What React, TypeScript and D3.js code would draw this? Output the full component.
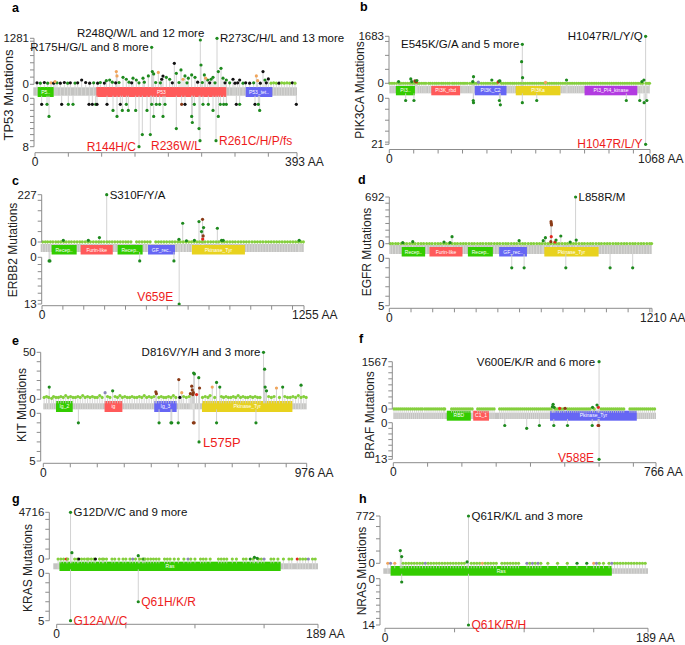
import React from "react";
import * as d3 from "d3";

type Mut = [number, number, string];
type Dom = [string, number, number, string];
type Lab = [number, number, string];

// ---------------- a: TP53 ----------------
const tp53Len = 393;
const tp53UpMax = 1281;
const tp53LowMax = 8;
const tp53Domains: Dom[] = [["P5..", 4, 28, "G"], ["P53", 92, 287, "R"], ["P53_tet..", 316, 356, "B"]];
const tp53Upper: Mut[] = [
  [175, 1030, "m"], [248, 1233, "m"], [273, 1281, "m"],
  [122, 353, "o"], [123, 232, "o"], [176, 353, "m"], [185, 330, "o"], [209, 585, "t"], [219, 399, "m"],
  [249, 538, "m"], [275, 353, "m"], [279, 446, "m"], [267, 195, "m"], [342, 353, "t"], [332, 232, "o"],
  [334, 100, "o"], [190, 140, "t"], [192, 230, "t"], [222, 140, "o"], [70, 120, "t"], [30, 75, "o"],
  [256, 170, "o"], [264, 140, "m"], [107, 100, "m"], [112, 120, "m"], [132, 195, "m"], [137, 140, "m"],
  [147, 170, "m"], [152, 120, "m"], [162, 170, "m"], [170, 232, "m"], [178, 288, "m"], [197, 195, "m"],
  [202, 140, "m"], [212, 306, "m"], [225, 232, "m"], [230, 170, "m"], [235, 260, "m"], [240, 195, "m"],
  [254, 260, "m"], [259, 120, "m"], [282, 170, "m"], [287, 120, "m"], [297, 140, "t"], [307, 120, "t"],
  [345, 120, "m"], [350, 150, "t"],
];
const tp53Lower: Mut[] = [
  [10, 1, "t"], [18, 1, "m"], [21, 3, "m"], [40, 1, "t"], [50, 1, "m"], [57, 1, "m"], [81, 1, "t"], [86, 1, "t"],
  [91, 1, "m"], [93, 1, "t"], [108, 1, "t"], [117, 2, "m"], [123, 3, "m"], [128, 1, "t"], [131, 2, "m"],
  [137, 1, "m"], [140, 2, "m"], [151, 2, "m"], [156, 8, "m"], [161, 6, "m"], [168, 2, "m"], [173, 6, "m"],
  [175, 1, "m"], [178, 3, "m"], [182, 1, "m"], [187, 1, "m"], [192, 3, "m"], [195, 1, "m"], [212, 5, "m"],
  [220, 1, "i"], [225, 1, "t"], [235, 3, "m"], [236, 4, "m"], [239, 1, "m"], [246, 5, "m"], [247.5, 7, "m"],
  [252, 1, "m"], [260, 1, "m"], [267, 2, "m"], [271.5, 7, "m"], [275, 3, "m"], [278, 1, "m"], [283, 1, "m"],
  [287, 1, "m"], [302, 1, "t"], [307, 1, "m"], [330, 1, "t"], [335, 1, "m"], [337, 2, "m"], [392, 1, "t"],
];
const tp53Base: Mut[] = [
  [3, 40, "t"], [8, 30, "m"], [14, 50, "t"], [19, 30, "m"], [24, 40, "o"], [28, 30, "t"], [33, 40, "m"], [38, 30, "t"],
  [44, 50, "t"], [49, 30, "m"], [53, 40, "t"], [60, 35, "m"], [64, 40, "t"], [76, 50, "t"], [82, 30, "t"], [88, 40, "m"],
  [94, 30, "t"], [98, 50, "m"], [104, 35, "t"], [116, 60, "m"], [121, 40, "t"], [126, 50, "m"], [141, 60, "m"],
  [145, 40, "t"], [156, 40, "m"], [164, 60, "m"], [181, 50, "m"], [188, 40, "m"], [206, 40, "t"], [216, 50, "m"],
  [228, 40, "m"], [244, 60, "t"], [251, 50, "m"], [262, 40, "t"], [270, 40, "m"], [285, 40, "t"], [292, 40, "m"],
  [300, 30, "t"], [304, 40, "t"], [312, 30, "m"], [316, 40, "t"], [322, 30, "t"], [328, 40, "m"], [338, 30, "t"],
  [347, 40, "t"], [354, 30, "l"], [358, 40, "l"], [362, 30, "l"], [366, 30, "t"], [370, 40, "l"], [374, 30, "l"],
  [378, 40, "l"], [382, 30, "l"], [386, 40, "t"], [390, 30, "l"],
];
const tp53UpLabels: Lab[] = [[175, 1030, "R175H/G/L and 8 more"], [248, 1233, "R248Q/W/L and 12 more"], [273, 1281, "R273C/H/L and 13 more"]];
const tp53LowLabels: Lab[] = [[156, 8, "R144H/C"], [247.5, 7, "R236W/L"], [271.5, 7, "R261C/H/P/fs"]];

// ---------------- b: PIK3CA ----------------
const pik3caLen = 1068;
const pik3caUpMax = 1683;
const pik3caLowMax = 21;
const pik3caDomains: Dom[] = [["PI3..", 27, 105, "G"], ["PI3K_rbd", 172, 290, "R"], ["PI3K_C2", 350, 480, "B"], ["PI3Ka", 518, 701, "Y"], ["PI3_PI4_kinase", 800, 1016, "P"]];
const pik3caUpper: Mut[] = [
  [1050, 1683, "m"], [545, 1397, "m"], [542, 776, "m"], [546, 203, "m"], [1043, 119, "m"], [88, 155, "m"],
  [345, 239, "m"], [420, 119, "m"], [453, 84, "m"], [726, 119, "m"], [38, 60, "m"], [105, 84, "i"],
  [108, 70, "i"], [111, 50, "r"], [113, 100, "m"], [92, 60, "m"], [342, 60, "m"], [446, 50, "r"],
  [450, 80, "m"], [1035, 60, "m"], [365, 40, "p"], [640, 30, "o"],
];
const pik3caLower: Mut[] = [
  [67, 1, "m"], [101, 1, "m"], [344, 1, "m"], [345, 2, "m"], [451, 1, "m"], [455, 3, "m"], [545, 2, "m"],
  [604, 1, "m"], [971, 1, "m"], [1026, 1, "m"], [1044, 2, "m"], [1050, 21, "m"], [1055, 1, "m"],
];
const pik3caBase: number[] = [
  2, 11, 20, 30, 41, 48, 57, 66, 75, 84, 95, 103, 117, 124, 133, 142, 150, 161, 168, 177, 186, 194, 203, 213, 221,
  230, 239, 247, 258, 266, 275, 284, 293, 302, 310, 319, 330, 338, 349, 357, 366, 377, 386, 395, 404, 413, 424,
  432, 441, 460, 468, 477, 486, 495, 504, 512, 521, 530, 539, 550, 558, 567, 576, 585, 594, 603, 612, 621, 630,
  639, 648, 657, 666, 675, 684, 693, 702, 711, 720, 731, 740, 749, 758, 767, 776, 785, 794, 803, 812, 821, 830,
  839, 848, 857, 866, 875, 884, 893, 902, 911, 920, 929, 938, 947, 956, 965, 974, 983, 992, 1001, 1010, 1019,
  1028, 1037, 1052, 1060, 1066,
];
const pik3caUpLabels: Lab[] = [[545, 1397, "E545K/G/A and 5 more"], [1050, 1683, "H1047R/L/Y/Q"]];
const pik3caLowLabels: Lab[] = [[1050, 21, "H1047R/L/Y"]];

// ---------------- c: ERBB2 ----------------
const erbb2Len = 1255;
const erbb2UpMax = 227;
const erbb2LowMax = 13;
const erbb2Domains: Dom[] = [["Recep..", 46, 166, "G"], ["Furin-like", 185, 339, "R"], ["Recep..", 362, 482, "G"], ["GF_rec..", 508, 637, "B"], ["Pkinase_Tyr", 718, 972, "Y"]];
const erbb2Upper: Mut[] = [
  [310, 227, "m"], [674, 90, "m"], [752, 98, "m"], [769, 109, "i"], [774, 69, "m"], [764, 50, "m"], [772, 29, "i"],
  [770, 14, "r"], [840, 66, "m"], [275, 21, "m"], [656, 13, "m"], [730, 8, "m"], [860, 8, "m"], [868, 8, "m"],
  [102, 8, "m"], [222, 8, "m"], [1232, 8, "m"], [692, 6, "m"],
];
const erbb2Lower: Mut[] = [[34, 1, "m"], [38, 1, "m"], [468, 1, "m"], [632, 1, "m"], [657, 13, "m"]];
const erbb2Base: number[] = [
  3, 16, 27, 40, 52, 66, 78, 90, 104, 116, 129, 141, 155, 168, 181, 193, 207, 220, 232, 246, 259, 271, 284, 297,
  311, 323, 336, 349, 362, 375, 388, 401, 413, 426, 453, 466, 479, 492, 505, 518, 545, 558, 571, 584, 597, 611,
  624, 637, 650, 663, 677, 690, 703, 716, 729, 742, 755, 768, 781, 795, 808, 821, 834, 847, 861, 874, 887, 900,
  913, 926, 940, 953, 966, 979, 992, 1006, 1019, 1032, 1045, 1058, 1072, 1085, 1098, 1111, 1124, 1137, 1150,
  1163, 1176, 1189, 1202, 1215, 1228, 1241, 1252,
];
const erbb2UpLabels: Lab[] = [[310, 227, "S310F/Y/A"]];
const erbb2LowLabels: Lab[] = [[657, 13, "V659E"]];

// ---------------- d: EGFR ----------------
const egfrLen = 1210;
const egfrUpMax = 692;
const egfrLowMax = 5;
const egfrDomains: Dom[] = [["Recep..", 57, 165, "G"], ["Furin-like", 185, 337, "R"], ["Recep..", 362, 477, "G"], ["GF_rec..", 506, 634, "B"], ["Pkinase_Tyr", 714, 964, "Y"]];
const egfrUpper: Mut[] = [
  [858, 692, "m"], [745, 326, "i"], [746, 301, "i"], [747, 277, "i"], [746, 104, "r"], [744, 30, "i"], [790, 114, "m"],
  [861, 54, "m"], [719, 89, "m"], [709, 45, "m"], [768, 54, "m"], [763, 25, "r"], [598, 45, "m"], [289, 104, "m"],
  [108, 30, "m"], [62, 15, "m"], [252, 25, "m"], [280, 15, "m"], [833, 25, "m"],
];
const egfrLower: Mut[] = [[564, 1, "m"], [621, 1, "m"], [813, 1, "m"], [1017, 1, "m"], [1121, 1, "m"]];
const egfrBase: number[] = [
  4, 15, 29, 41, 55, 68, 80, 94, 107, 119, 133, 146, 158, 172, 185, 197, 211, 224, 236, 250, 263, 275, 289, 302,
  314, 328, 341, 353, 367, 380, 392, 406, 419, 431, 445, 458, 470, 484, 497, 509, 523, 536, 548, 562, 575, 587,
  601, 614, 626, 640, 653, 665, 679, 692, 704, 718, 731, 743, 757, 770, 782, 796, 809, 821, 835, 848, 860, 874,
  887, 899, 913, 926, 938, 952, 965, 977, 991, 1004, 1016, 1030, 1043, 1055, 1069, 1082, 1094, 1108, 1121, 1133,
  1147, 1160, 1172, 1186, 1199, 1208,
];
const egfrUpLabels: Lab[] = [[858, 692, "L858R/M"]];
const egfrLowLabels: Lab[] = [];

// ---------------- e: KIT ----------------
const kitLen = 976;
const kitUpMax = 50;
const kitLowMax = 5;
const kitDomains: Dom[] = [["Ig_2", 47, 109, "G"], ["ig", 227, 293, "R"], ["Ig_3", 411, 494, "B"], ["Pkinase_Tyr", 588, 923, "Y"]];
const kitUpper: Mut[] = [
  [816, 50, "m"], [820, 32, "m"], [822, 13, "m"], [827, 9, "m"], [557, 28, "m"], [560, 27, "m"], [550, 14, "i"],
  [552, 10, "i"], [556, 7, "i"], [554, 5, "i"], [502, 21, "i"], [576, 23, "m"], [579, 12, "i"], [642, 18, "m"],
  [654, 13, "m"], [626, 13, "o"], [513, 7, "o"], [417, 8, "i"], [419, 6, "i"], [22, 13, "m"], [229, 7, "p"],
  [257, 9, "m"], [887, 13, "m"], [864, 12, "o"], [955, 15, "m"], [506, 2, "t"], [568, 5, "r"], [545, 6, "i"],
];
const kitLower: Mut[] = [
  [130, 1, "m"], [429, 1, "m"], [473, 1, "m"], [476, 1, "m"], [500, 1, "m"], [556, 1, "i"], [559, 1, "i"],
  [642, 1, "m"], [788, 1, "m"], [577, 3, "m"],
];
const kitBase: [number, number][] = [
  [3, 2], [12, 3], [20, 2], [31, 1], [38, 3], [47, 2], [56, 2], [65, 3], [74, 2], [83, 4], [92, 2], [101, 3], [110, 2],
  [119, 2], [128, 3], [137, 2], [146, 4], [155, 2], [164, 3], [173, 2], [182, 3], [191, 2], [200, 2], [209, 4],
  [218, 2], [238, 3], [247, 2], [266, 3], [275, 2], [284, 4], [293, 2], [302, 3], [311, 2], [320, 2], [329, 3],
  [338, 2], [347, 2], [356, 3], [365, 2], [374, 4], [383, 2], [392, 3], [401, 2], [410, 3], [428, 2], [437, 3],
  [446, 2], [455, 2], [464, 3], [473, 2], [482, 4], [491, 2], [520, 3], [530, 2], [540, 3], [590, 2], [600, 3],
  [610, 2], [618, 4], [635, 2], [660, 3], [668, 2], [677, 3], [686, 2], [695, 2], [704, 3], [713, 2], [722, 4],
  [731, 2], [740, 3], [749, 2], [758, 2], [767, 3], [776, 2], [785, 3], [794, 2], [803, 2], [835, 3], [845, 2],
  [855, 3], [875, 2], [895, 3], [905, 2], [915, 2], [925, 3], [935, 2], [945, 4], [955, 2], [965, 3], [974, 2],
];
const kitUpLabels: Lab[] = [[816, 50, "D816V/Y/H and 3 more"]];
const kitLowLabels: Lab[] = [[577, 3, "L575P"]];

// ---------------- f: BRAF ----------------
const brafLen = 766;
const brafUpMax = 1567;
const brafLowMax = 13;
const brafDomains: Dom[] = [["RBD", 156, 226, "G"], ["C1_1", 233, 279, "R"], ["Pkinase_Tyr", 457, 710, "B"]];
const brafUpper: Mut[] = [
  [600, 1567, "m"], [466, 154, "m"], [464, 77, "m"], [469, 55, "m"], [594, 132, "m"], [581, 55, "m"],
  [485, 22, "r"], [501, 22, "i"], [598, 55, "r"],
];
const brafLower: Mut[] = [
  [325, 1, "m"], [389, 2, "m"], [426, 1, "m"], [468, 1, "m"], [508, 1, "m"], [580, 1, "m"], [597, 1, "r"],
  [599, 1, "i"], [600, 13, "m"],
];
const brafBase: number[] = [
  2, 8, 14, 20, 26, 32, 38, 44, 50, 56, 62, 68, 74, 80, 85, 92, 98, 104, 110, 116, 122, 128, 134, 140, 146, 150,
  170, 176, 182, 188, 194, 200, 206, 212, 218, 224, 230, 246, 252, 258, 264, 270, 276, 282, 288, 294, 310, 316,
  322, 328, 334, 340, 346, 352, 358, 364, 370, 376, 382, 388, 394, 400, 406, 412, 418, 424, 430, 436, 442, 448,
  454, 460, 472, 478, 484, 490, 496, 508, 514, 520, 526, 532, 538, 544, 550, 556, 562, 568, 574, 586, 606, 612,
  618, 624, 630, 636, 642, 648, 654, 660, 666, 672, 690, 696, 702, 708, 714, 720, 726, 732, 738, 744, 750, 756, 762,
];
const brafUpLabels: Lab[] = [[600, 1567, "V600E/K/R and 6 more"]];
const brafLowLabels: Lab[] = [[600, 13, "V588E"]];

// ---------------- g: KRAS ----------------
const krasLen = 189;
const krasUpMax = 4716;
const krasLowMax = 5;
const krasDomains: Dom[] = [["Ras", 2, 162, "G"]];
const krasUpper: Mut[] = [[10, 4716, "m"], [11, 640, "m"], [59, 337, "m"], [143, 168, "m"], [145, 70, "m"]];
const krasLower: Mut[] = [[10, 5, "m"], [59, 3, "m"]];
const krasBase: Mut[] = [
  [1, 1, "l"], [3, 1, "l"], [5, 1, "l"], [7, 1, "r"], [8, 1, "l"], [13, 1, "l"], [15, 1, "l"], [16, 1, "t"], [18, 1, "l"],
  [20, 1, "l"], [22, 1, "l"], [23, 1, "l"], [25, 1, "l"], [27, 1, "l"], [28, 1, "t"], [31, 1, "l"], [33, 1, "l"],
  [34, 1, "l"], [36, 1, "l"], [40, 1, "l"], [42, 1, "l"], [45, 1, "l"], [48, 1, "l"], [50, 1, "l"], [53, 1, "l"],
  [55, 1, "p"], [57, 1, "l"], [60, 1, "l"], [62, 1, "l"], [63, 1, "m"], [64, 1, "l"], [66, 1, "l"], [68, 1, "l"],
  [70, 1, "l"], [72, 1, "l"], [74, 1, "l"], [78, 1, "l"], [80, 1, "l"], [82, 1, "l"], [85, 1, "l"], [88, 1, "l"],
  [92, 1, "l"], [95, 1, "p"], [97, 1, "l"], [100, 1, "l"], [104, 1, "l"], [106, 1, "l"], [108, 1, "l"], [111, 1, "l"],
  [117, 1, "l"], [119, 1, "l"], [121, 1, "l"], [123, 1, "l"], [127, 1, "l"], [130, 1, "l"], [135, 1, "l"],
  [137, 1, "l"], [140, 1, "m"], [142, 1, "l"], [146, 1, "l"], [148, 1, "l"], [150, 1, "p"], [155, 1, "l"],
  [157, 1, "l"], [160, 1, "l"], [164, 1, "l"], [168, 1, "l"], [170, 1, "l"], [174, 1, "r"], [176, 1, "l"],
  [178, 1, "l"], [180, 1, "l"], [182, 1, "p"], [185, 1, "l"], [187, 1, "l"],
];
const krasUpLabels: Lab[] = [[10, 4716, "G12D/V/C and 9 more"]];
const krasLowLabels: Lab[] = [[10, 5, "G12A/V/C"], [59, 3, "Q61H/K/R"]];

// ---------------- h: NRAS ----------------
const nrasLen = 189;
const nrasUpMax = 772;
const nrasLowMax = 14;
const nrasDomains: Dom[] = [["Ras", 4, 163, "G"]];
const nrasUpper: Mut[] = [[60, 772, "m"], [11, 207, "m"], [12, 109, "m"], [59, 22, "m"]];
const nrasLower: Mut[] = [[12, 1, "m"], [60, 14, "m"]];
const nrasBase: Mut[] = [
  [2, 1, "o"], [4, 1, "p"], [7, 1, "o"], [13, 1, "l"], [15, 1, "l"], [17, 1, "l"], [19, 1, "l"], [21, 1, "l"],
  [23, 1, "l"], [25, 1, "l"], [27, 1, "l"], [29, 1, "p"], [31, 1, "l"], [33, 1, "l"], [35, 1, "l"], [37, 1, "l"],
  [39, 1, "l"], [41, 1, "l"], [43, 1, "l"], [45, 1, "l"], [47, 1, "l"], [49, 1, "l"], [51, 1, "l"], [53, 1, "l"],
  [55, 1, "l"], [57, 1, "l"], [62, 1, "l"], [64, 1, "l"], [66, 1, "l"], [68, 1, "l"], [70, 1, "o"], [72, 1, "l"],
  [74, 1, "l"], [76, 1, "l"], [78, 1, "l"], [80, 1, "l"], [84, 1, "l"], [86, 1, "l"], [88, 1, "l"], [90, 1, "l"],
  [92, 1, "l"], [94, 1, "l"], [96, 1, "l"], [102, 1, "p"], [104, 1, "l"], [106, 1, "p"], [108, 1, "l"],
  [110, 1, "p"], [112, 1, "l"], [117, 1, "l"], [124, 1, "l"], [131, 1, "l"], [138, 1, "m"], [145, 1, "m"],
  [150, 1, "o"], [152, 1, "p"], [154, 1, "l"], [157, 1, "l"], [161, 1, "l"], [163, 1, "p"], [165, 1, "l"],
  [167, 1, "l"], [169, 1, "l"], [171, 1, "l"], [173, 1, "l"], [175, 1, "l"], [177, 1, "l"], [179, 1, "l"],
  [181, 1, "l"], [183, 1, "l"], [185, 1, "l"], [187, 1, "l"],
];
const nrasUpLabels: Lab[] = [[60, 772, "Q61R/K/L and 3 more"]];
const nrasLowLabels: Lab[] = [[60, 14, "Q61K/R/H"]];

// ---------------- styles ----------------
const FONT = "Arial, 'Liberation Sans', Helvetica, sans-serif";
const COLORS: Record<string, string> = {
  m: "#1e8a1e", l: "#84cf3c", t: "#111111", i: "#8a3a16", o: "#f0a55c", r: "#e2261c", p: "#8a86b8",
};
const DOMAIN_COLORS: Record<string, string> = { G: "#33cc00", R: "#ff5a5a", B: "#6666f4", Y: "#e8d21e", P: "#b23be0" };

type Layout = {
  letter: string; lx: number; ly: number; tx: number; ty: number; ts: number;
  ox: number; x0: number; x1: number; bx0: number; yTop: number; yZero: number;
  bandTop: number; bandH: number; boxTop: number; boxH: number; lowZero: number; lowY: number;
  axisY: number; step: number;
};
type LabStyle = [string, number, number, number]; // anchor, dx, dy, size

const LAYOUTS: Layout[] = [
  { letter: "a", lx: 12, ly: 12, tx: 8, ty: 95, ts: 13, ox: 34, x0: 35, x1: 297, bx0: 33.3, yTop: 38.3, yZero: 84.3, bandTop: 87.3, bandH: 8.4, boxTop: 87, boxH: 10, lowZero: 98.3, lowY: 146.7, axisY: 152.7, step: 50 },
  { letter: "b", lx: 360, ly: 10.5, tx: 360, ty: 90, ts: 12, ox: 389, x0: 389.3, x1: 650, bx0: 389.3, yTop: 36.3, yZero: 83.3, bandTop: 86, bandH: 7.3, boxTop: 85.8, boxH: 9.5, lowZero: 98.3, lowY: 144.3, axisY: 149.5, step: 100 },
  { letter: "c", lx: 12, ly: 185, tx: 13, ty: 250, ts: 12, ox: 41.7, x0: 42, x1: 304, bx0: 40.7, yTop: 194.7, yZero: 242, bandTop: 244, bandH: 8, boxTop: 245, boxH: 9.5, lowZero: 257.3, lowY: 304, axisY: 305.7, step: 100 },
  { letter: "d", lx: 358, ly: 184, tx: 367, ty: 252, ts: 12, ox: 389.3, x0: 389.3, x1: 652, bx0: 389.3, yTop: 197, yZero: 243.7, bandTop: 245, bandH: 9, boxTop: 247, boxH: 9.5, lowZero: 258.3, lowY: 305.7, axisY: 308.3, step: 100 },
  { letter: "e", lx: 12, ly: 345, tx: 22, ty: 405, ts: 12, ox: 40.7, x0: 43.3, x1: 306.7, bx0: 43.3, yTop: 352.3, yZero: 399.3, bandTop: 403.3, bandH: 6, boxTop: 401, boxH: 11, lowZero: 413.3, lowY: 461, axisY: 463.3, step: 100 },
  { letter: "f", lx: 359, ly: 343, tx: 370, ty: 415, ts: 12, ox: 392.3, x0: 393.3, x1: 656, bx0: 393.3, yTop: 361.7, yZero: 409, bandTop: 412.7, bandH: 6.3, boxTop: 410.7, boxH: 10, lowZero: 422.7, lowY: 459.3, axisY: 462.7, step: 100 },
  { letter: "g", lx: 12, ly: 503, tx: 28, ty: 568, ts: 12, ox: 49.3, x0: 56.7, x1: 318, bx0: 53.3, yTop: 512.3, yZero: 559, bandTop: 563.3, bandH: 6, boxTop: 561.7, boxH: 9.3, lowZero: 573.3, lowY: 620.7, axisY: 624.3, step: 50 },
  { letter: "h", lx: 359, ly: 503, tx: 362, ty: 571, ts: 12, ox: 380, x0: 385, x1: 648, bx0: 383.3, yTop: 516, yZero: 563.3, bandTop: 568.3, bandH: 5.5, boxTop: 566, boxH: 9.7, lowZero: 578.7, lowY: 625, axisY: 628.3, step: 50 },
];

const UP_LABEL_STYLES: LabStyle[][] = [
  [["end", -3, 4, 11.5], ["end", 4, -3, 11.5], ["start", 3, 4, 11.5]],
  [["end", -3, 4, 11.5], ["end", -3, 4, 11.5]],
  [["start", 3, 4, 11.5]],
  [["start", 3, 4, 11.5]],
  [["end", -3, 4, 11.5]],
  [["end", -4, 4, 11.5]],
  [["start", 3, 4, 11.5]],
  [["start", 3, 4, 11.5]],
];
const LOW_LABEL_STYLES: LabStyle[][] = [
  [["end", -3, 4, 12], ["end", 1, 9, 12], ["start", 3, 4, 12]],
  [["end", -3, 4, 12]],
  [["end", -6, -3, 12]],
  [],
  [["start", 4, 5, 13]],
  [["end", -5, 3, 12]],
  [["start", 3, 4, 12], ["start", 3, 4, 12]],
  [["start", 3, 4, 12]],
];

type PanelData = {
  gene: string; len: number; upMax: number; lowMax: number; domains: Dom[];
  upper: Mut[]; lower: Mut[]; base: Mut[]; upLabels: Lab[]; lowLabels: Lab[];
};

const PANELS: PanelData[] = [
  { gene: "TP53", len: tp53Len, upMax: tp53UpMax, lowMax: tp53LowMax, domains: tp53Domains, upper: tp53Upper, lower: tp53Lower, base: tp53Base, upLabels: tp53UpLabels, lowLabels: tp53LowLabels },
  { gene: "PIK3CA", len: pik3caLen, upMax: pik3caUpMax, lowMax: pik3caLowMax, domains: pik3caDomains, upper: pik3caUpper, lower: pik3caLower, base: pik3caBase.map((p) => [p, 1, "l"] as Mut), upLabels: pik3caUpLabels, lowLabels: pik3caLowLabels },
  { gene: "ERBB2", len: erbb2Len, upMax: erbb2UpMax, lowMax: erbb2LowMax, domains: erbb2Domains, upper: erbb2Upper, lower: erbb2Lower, base: erbb2Base.map((p) => [p, 1, "l"] as Mut), upLabels: erbb2UpLabels, lowLabels: erbb2LowLabels },
  { gene: "EGFR", len: egfrLen, upMax: egfrUpMax, lowMax: egfrLowMax, domains: egfrDomains, upper: egfrUpper, lower: egfrLower, base: egfrBase.map((p) => [p, 2, "l"] as Mut), upLabels: egfrUpLabels, lowLabels: egfrLowLabels },
  { gene: "KIT", len: kitLen, upMax: kitUpMax, lowMax: kitLowMax, domains: kitDomains, upper: kitUpper, lower: kitLower, base: kitBase.map(([p, c]) => [p, c, "l"] as Mut), upLabels: kitUpLabels, lowLabels: kitLowLabels },
  { gene: "BRAF", len: brafLen, upMax: brafUpMax, lowMax: brafLowMax, domains: brafDomains, upper: brafUpper, lower: brafLower, base: brafBase.map((p) => [p, 1, "l"] as Mut), upLabels: brafUpLabels, lowLabels: brafLowLabels },
  { gene: "KRAS", len: krasLen, upMax: krasUpMax, lowMax: krasLowMax, domains: krasDomains, upper: krasUpper, lower: krasLower, base: krasBase, upLabels: krasUpLabels, lowLabels: krasLowLabels },
  { gene: "NRAS", len: nrasLen, upMax: nrasUpMax, lowMax: nrasLowMax, domains: nrasDomains, upper: nrasUpper, lower: nrasLower, base: nrasBase, upLabels: nrasUpLabels, lowLabels: nrasLowLabels },
];

const AXIS = "#8c8c8c";
const STEM = "#cdcdcd";
const R = 1.6;

function Panel({ d, L, upStyles, lowStyles }: { d: PanelData; L: Layout; upStyles: LabStyle[]; lowStyles: LabStyle[] }) {
  const x = d3.scaleLinear().domain([0, d.len]).range([L.x0, L.x1]);
  const yU = d3.scaleLinear().domain([0, d.upMax]).range([L.yZero, L.yTop]);
  const yL = d3.scaleLinear().domain([0, d.lowMax]).range([L.lowZero, L.lowY]);
  const bandBot = L.bandTop + L.bandH;
  const upTicks = yU.ticks(5).filter((v) => v < d.upMax).concat([d.upMax]);
  const lowTicks = (d.lowMax <= 8 ? d3.range(0, d.lowMax) : yL.ticks(5).filter((v) => v < d.lowMax)).concat([d.lowMax]);
  const xTicks = d3.range(0, d.len, L.step).concat([d.len]);
  const uppers = [...d.upper].sort((a, b) => a[1] - b[1]);
  const lowers = [...d.lower].sort((a, b) => a[1] - b[1]);
  const stripes = [...d.base, ...d.upper];

  return (
    <g>
      <text x={L.lx} y={L.ly} fontWeight="bold" fontSize={12.5} fill="#000">{L.letter}</text>
      <text transform={`translate(${L.tx},${L.ty}) rotate(-90)`} textAnchor="middle" dy="0.35em" fontSize={L.ts} fill="#222">
        {d.gene} Mutations
      </text>

      {/* protein band */}
      <rect x={L.bx0} y={L.bandTop} width={L.x1 - L.bx0} height={L.bandH} fill="#c4c4c2" />
      {stripes.map((m, i) => (
        <line key={"s" + i} x1={x(m[0])} x2={x(m[0])} y1={L.bandTop} y2={bandBot} stroke="#e4e4e2" strokeWidth={0.6} />
      ))}
      {d.domains.map((dm, i) => (
        <g key={"d" + i}>
          <rect x={x(dm[1])} y={L.boxTop} width={x(dm[2]) - x(dm[1])} height={L.boxH} fill={DOMAIN_COLORS[dm[3]]} />
          <text x={(x(dm[1]) + x(dm[2])) / 2} y={L.boxTop + L.boxH / 2} dy="0.35em" textAnchor="middle" fontSize={5} fill="#fff">{dm[0]}</text>
        </g>
      ))}

      {/* upper stems + dots */}
      {d.base.map((m, i) => (
        <line key={"bs" + i} x1={x(m[0])} x2={x(m[0])} y1={L.bandTop} y2={yU(m[1])} stroke={STEM} strokeWidth={0.8} />
      ))}
      {uppers.map((m, i) => (
        <line key={"us" + i} x1={x(m[0])} x2={x(m[0])} y1={L.bandTop} y2={yU(m[1])} stroke={STEM} strokeWidth={0.9} />
      ))}
      {d.base.map((m, i) => (
        <circle key={"bd" + i} cx={x(m[0])} cy={yU(m[1])} r={R} fill={COLORS[m[2]]} />
      ))}
      {uppers.map((m, i) => (
        <circle key={"ud" + i} cx={x(m[0])} cy={yU(m[1])} r={R} fill={COLORS[m[2]]} />
      ))}

      {/* lower stems + dots */}
      {lowers.map((m, i) => (
        <line key={"ls" + i} x1={x(m[0])} x2={x(m[0])} y1={bandBot} y2={yL(m[1])} stroke={STEM} strokeWidth={0.9} />
      ))}
      {lowers.map((m, i) => (
        <circle key={"ld" + i} cx={x(m[0])} cy={yL(m[1])} r={R} fill={COLORS[m[2]]} />
      ))}

      {/* y axes */}
      <line x1={L.ox} x2={L.ox} y1={L.yTop} y2={L.yZero} stroke={AXIS} />
      {upTicks.map((t, i) => (
        <line key={"ut" + i} x1={L.ox - 4} x2={L.ox} y1={yU(t)} y2={yU(t)} stroke={AXIS} />
      ))}
      <text x={L.ox - 5} y={yU(d.upMax)} dy="0.35em" textAnchor="end" fontSize={11.5} fill="#222">{d.upMax}</text>
      <text x={L.ox - 5} y={yU(0)} dy="0.35em" textAnchor="end" fontSize={11.5} fill="#222">0</text>
      <line x1={L.ox} x2={L.ox} y1={L.lowZero} y2={L.lowY} stroke={AXIS} />
      {lowTicks.map((t, i) => (
        <line key={"lt" + i} x1={L.ox - 4} x2={L.ox} y1={yL(t)} y2={yL(t)} stroke={AXIS} />
      ))}
      <text x={L.ox - 5} y={yL(0)} dy="0.35em" textAnchor="end" fontSize={11.5} fill="#222">0</text>
      <text x={L.ox - 5} y={yL(d.lowMax)} dy="0.35em" textAnchor="end" fontSize={11.5} fill="#222">{d.lowMax}</text>

      {/* x axis */}
      <line x1={L.x0} x2={L.x1} y1={L.axisY} y2={L.axisY} stroke={AXIS} />
      {xTicks.map((t, i) => (
        <line key={"xt" + i} x1={x(t)} x2={x(t)} y1={L.axisY} y2={L.axisY + 4} stroke={AXIS} />
      ))}
      <text x={x(0)} y={L.axisY + 13.5} textAnchor="middle" fontSize={12} fill="#222">0</text>
      <text x={x(d.len) - 12} y={L.axisY + 13.5} textAnchor="start" fontSize={12} fill="#222">{d.len} AA</text>

      {/* annotations */}
      {d.upLabels.map((lb, i) => {
        const s = upStyles[i];
        return (
          <text key={"ul" + i} x={x(lb[0]) + s[1]} y={yU(lb[1]) + s[2]} textAnchor={s[0] as any} fontSize={s[3]} fill="#111">{lb[2]}</text>
        );
      })}
      {d.lowLabels.map((lb, i) => {
        const s = lowStyles[i];
        return (
          <text key={"ll" + i} x={x(lb[0]) + s[1]} y={yL(lb[1]) + s[2]} textAnchor={s[0] as any} fontSize={s[3]} fill="#ee1c1c">{lb[2]}</text>
        );
      })}
    </g>
  );
}

export default function App() {
  return (
    <svg width={685} height={645} style={{ position: "absolute", left: 0, top: 0, background: "#fff" }} fontFamily={FONT}>
      <rect width={685} height={645} fill="#fff" />
      {PANELS.map((d, i) => (
        <Panel key={d.gene} d={d} L={LAYOUTS[i]} upStyles={UP_LABEL_STYLES[i]} lowStyles={LOW_LABEL_STYLES[i]} />
      ))}
    </svg>
  );
}
